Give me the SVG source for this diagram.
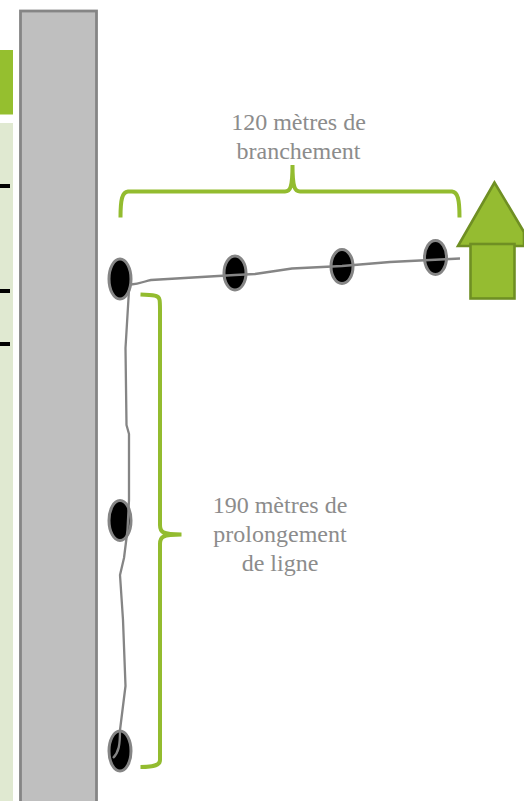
<svg xmlns="http://www.w3.org/2000/svg" width="524" height="801" viewBox="0 0 524 801">
<style>
.pin{fill:#000;stroke:#858585;stroke-width:3}
.wire{fill:none;stroke:#858585;stroke-width:2.300;stroke-linejoin:round}
.brace{fill:none;stroke:#93bc2f;stroke-width:4}
.lbl{font-family:"Liberation Serif",serif;font-size:24px;fill:#8c8c8c;text-anchor:middle}
.dash{fill:#000}
</style>
<rect width="524" height="801" fill="#fff"/>
<g id="side-panel">
<rect x="0" y="50" width="13" height="64.500" fill="#95bf2f"/>
<rect x="0" y="123" width="13" height="678" fill="#e0e9d1"/>
<rect class="dash" x="0" y="184" width="10" height="4"/>
<rect class="dash" x="0" y="289" width="10" height="4"/>
<rect class="dash" x="0" y="342" width="10" height="4"/>
</g>
<g id="wall"><rect x="20.500" y="11" width="76" height="800" fill="#bfbfbf" stroke="#858585" stroke-width="2.800"/></g>
<g id="brace-top"><path class="brace" d="M120.500 217.500C120.500 200 122 192 128 191.500L285 191.500C290 191.500 292.500 188 292.500 165C292.500 188 295 191.500 300 191.500L452 191.500C458 192 459.500 200 459.500 217.500"/></g>
<g id="brace-side"><path class="brace" d="M140.500 294.500C150 295 154 295 156 296C160 297 160 300 160 310L160 525C160 532 162 534.500 181.500 534.500C162 534.500 160 537 160 544L160 760C160 765 155 767 140.500 767"/></g>
<g id="pin-1"><ellipse class="pin" cx="120" cy="279" rx="11" ry="20"/></g>
<g id="pin-2"><ellipse class="pin" cx="235" cy="273" rx="11" ry="17"/></g>
<g id="pin-3"><ellipse class="pin" cx="342" cy="266.500" rx="11" ry="17"/></g>
<g id="pin-4"><ellipse class="pin" cx="435.500" cy="257.500" rx="11" ry="17"/></g>
<g id="pin-5"><ellipse class="pin" cx="120" cy="520.500" rx="11" ry="20"/></g>
<g id="pin-6"><ellipse class="pin" cx="120" cy="751" rx="11" ry="20"/></g>
<g id="connectors">
<path class="wire" d="M131 284.500C140 284 145 281 151 280L235 275L255 274L292 268.500L342 266L390 262L460 258.500"/>
<path class="wire" d="M129 290L125.500 348L126.500 425L129 434L129 500L127.500 530L124 558L120 575L123 620L125.500 686L120 730C120 745 119 752 113 758"/>
</g>
<g id="house">
<path d="M494.500 182.500L458 246L524 246L524 232Z" fill="#95bc31" stroke="#6f8f23" stroke-width="2.600" stroke-linejoin="miter"/>
<rect x="470.500" y="244" width="44" height="54.500" fill="#95bc31" stroke="#6f8f23" stroke-width="2.600"/>
</g>
<g id="label-top">
<text class="lbl" x="298.500" y="130">120 mètres de</text>
<text class="lbl" x="298.500" y="159">branchement</text>
</g>
<g id="label-side">
<text class="lbl" x="280" y="513">190 mètres de</text>
<text class="lbl" x="280" y="542">prolongement</text>
<text class="lbl" x="280" y="571">de ligne</text>
</g>
</svg>
